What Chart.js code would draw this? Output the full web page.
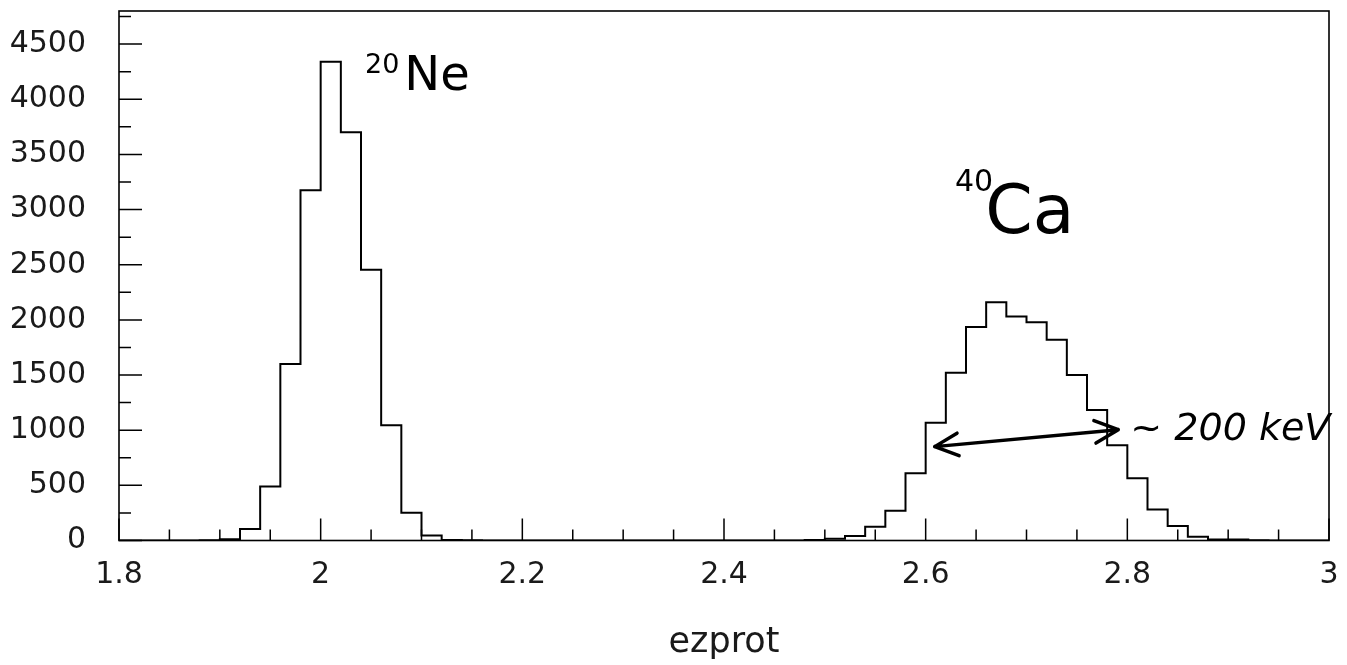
<!DOCTYPE html>
<html>
<head>
<meta charset="utf-8">
<title>ezprot</title>
<script src="https://cdn.jsdelivr.net/npm/chart.js@4.4.1/dist/chart.umd.min.js"></script>
<style>
  html, body { margin: 0; padding: 0; background: #fff; }
  #wrap { width: 1347px; height: 665px; position: relative; }
</style>
</head>
<body>
<div id="wrap"><canvas id="histo"></canvas></div>
<script>
// bin edges (61 edges -> 60 bins of 0.02)
const binEdges = [
  1.80, 1.82, 1.84, 1.86, 1.88, 1.90, 1.92, 1.94, 1.96, 1.98,
  2.00, 2.02, 2.04, 2.06, 2.08, 2.10, 2.12, 2.14, 2.16, 2.18,
  2.20, 2.22, 2.24, 2.26, 2.28, 2.30, 2.32, 2.34, 2.36, 2.38,
  2.40, 2.42, 2.44, 2.46, 2.48, 2.50, 2.52, 2.54, 2.56, 2.58,
  2.60, 2.62, 2.64, 2.66, 2.68, 2.70, 2.72, 2.74, 2.76, 2.78,
  2.80, 2.82, 2.84, 2.86, 2.88, 2.90, 2.92, 2.94, 2.96, 2.98,
  3.00
];

// counts per bin
const counts = [
  0, 0, 0, 0, 3, 12, 105, 490, 1600, 3175,
  4340, 3700, 2455, 1045, 252, 46, 5, 2, 0, 0,
  0, 0, 0, 0, 0, 0, 0, 0, 0, 0,
  0, 0, 0, 0, 5, 15, 40, 124, 270, 610,
  1068, 1520, 1935, 2160, 2030, 1978, 1820, 1501, 1184, 864,
  564, 282, 131, 35, 10, 8, 2, 0, 0, 0
];

const xTicks = [1.8, 2, 2.2, 2.4, 2.6, 2.8, 3];
const yTicks = [0, 500, 1000, 1500, 2000, 2500, 3000, 3500, 4000, 4500];

const FONT = "'DejaVu Sans', 'Liberation Sans', sans-serif";

// step outline: one point per edge, last edge repeats last bin
const points = binEdges.map((e, i) => ({ x: e, y: counts[Math.min(i, counts.length - 1)] }));

// frame + inward ticks like the original plot
const frameTicks = {
  id: 'frameTicks',
  afterDraw(chart) {
    const { ctx, chartArea: a, scales } = chart;
    const xs = scales.x, ys = scales.y;
    ctx.save();
    ctx.strokeStyle = '#000';
    ctx.lineWidth = 1.6;
    ctx.strokeRect(a.left, a.top, a.right - a.left, a.bottom - a.top);

    ctx.lineWidth = 1.5;
    ctx.beginPath();
    // x ticks: major every 0.2, minor every 0.05
    for (let k = 0; k <= 24; k++) {
      const px = xs.getPixelForValue(1.8 + k * 0.05);
      const len = (k % 4 === 0) ? 22 : 11;
      ctx.moveTo(px, a.bottom);
      ctx.lineTo(px, a.bottom - len);
    }
    // y ticks: major every 500, minor every 250
    for (let k = 0; k * 250 <= 4800; k++) {
      const py = ys.getPixelForValue(k * 250);
      const len = (k % 2 === 0) ? 23 : 12;
      ctx.moveTo(a.left, py);
      ctx.lineTo(a.left + len, py);
    }
    ctx.stroke();
    ctx.restore();
  }
};

// handwritten notes on the scan
const handNotes = {
  id: 'handNotes',
  afterDatasetsDraw(chart) {
    const { ctx, scales } = chart;
    const X = v => scales.x.getPixelForValue(v);
    const Y = v => scales.y.getPixelForValue(v);
    ctx.save();
    ctx.fillStyle = '#000';
    ctx.textBaseline = 'alphabetic';
    ctx.textAlign = 'left';

    ctx.font = "27px " + FONT;
    ctx.fillText('20', X(2.044), Y(4236));
    ctx.font = "48px " + FONT;
    ctx.fillText('Ne', X(2.083), Y(4081));

    ctx.font = "30px " + FONT;
    ctx.fillText('40', X(2.629), Y(3171));
    ctx.font = "68px " + FONT;
    ctx.fillText('Ca', X(2.659), Y(2790));

    ctx.font = "italic 38px " + FONT;
    ctx.fillText('~ 200 keV', X(2.803), Y(915));

    // double arrow
    const x1 = X(2.609), y1 = Y(851), x2 = X(2.791), y2 = Y(1005);
    ctx.strokeStyle = '#000';
    ctx.lineWidth = 3.5;
    ctx.lineCap = 'round';
    ctx.beginPath();
    ctx.moveTo(x1, y1);
    ctx.lineTo(x2, y2);
    const ang = Math.atan2(y2 - y1, x2 - x1);
    const h = 26;
    [[x2, y2, ang], [x1, y1, ang + Math.PI]].forEach(([hx, hy, t]) => {
      ctx.moveTo(hx, hy);
      ctx.lineTo(hx - h * Math.cos(t - 0.45), hy - h * Math.sin(t - 0.45));
      ctx.moveTo(hx, hy);
      ctx.lineTo(hx - h * Math.cos(t + 0.45), hy - h * Math.sin(t + 0.45));
    });
    ctx.stroke();
    ctx.restore();
  }
};

new Chart(document.getElementById('histo'), {
  type: 'line',
  data: {
    datasets: [{
      data: points,
      stepped: 'before',
      borderColor: '#000',
      borderWidth: 2,
      pointRadius: 0,
      fill: false
    }]
  },
  options: {
    responsive: true,
    maintainAspectRatio: false,
    animation: false,
    layout: { padding: { top: 11, right: 18, left: 0, bottom: 0 } },
    plugins: {
      legend: { display: false },
      tooltip: { enabled: false }
    },
    scales: {
      x: {
        type: 'linear',
        min: 1.8,
        max: 3.0,
        afterBuildTicks: s => { s.ticks = xTicks.map(v => ({ value: v })); },
        afterFit: s => {
          s.height = 124.5;
          s.paddingLeft = 0; s.paddingRight = 0;
        },
        grid: { display: false, drawTicks: false },
        border: { display: false },
        ticks: {
          padding: 17,
          color: '#1a1a1a',
          font: { family: FONT, size: 30 },
          maxRotation: 0,
          callback: v => String(Math.round(v * 100) / 100)
        },
        title: {
          display: true,
          text: 'ezprot',
          color: '#1a1a1a',
          font: { family: FONT, size: 35 },
          padding: { top: 0, bottom: 1 }
        }
      },
      y: {
        min: 0,
        max: 4800,
        afterBuildTicks: s => { s.ticks = yTicks.map(v => ({ value: v })); },
        afterFit: s => {
          s.width = 119;
          s.paddingTop = 0; s.paddingBottom = 0;
        },
        grid: { display: false, drawTicks: false },
        border: { display: false },
        ticks: {
          padding: 33,
          color: '#1a1a1a',
          font: { family: FONT, size: 30 },
          callback: v => String(v)
        }
      }
    }
  },
  plugins: [frameTicks, handNotes]
});
</script>
</body>
</html>
